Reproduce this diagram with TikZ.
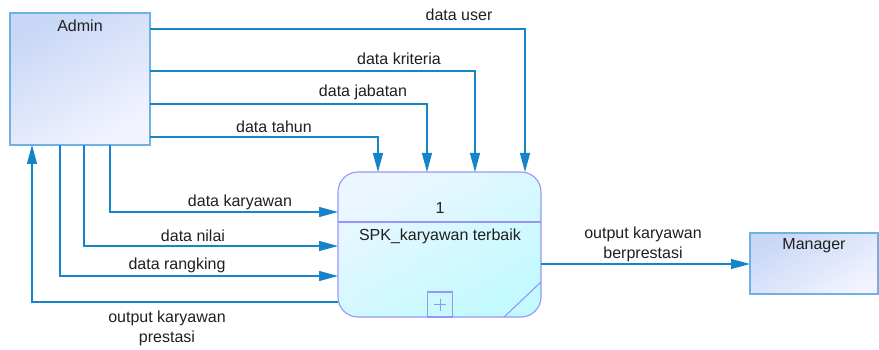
\documentclass[tikz,border=0pt]{standalone}
\usepackage{fontspec}
\setmainfont{Liberation Sans}
\usetikzlibrary{arrows.meta,calc}
\definecolor{flowblue}{RGB}{22,132,200}
\definecolor{entborder}{RGB}{110,178,228}
\definecolor{entdark}{RGB}{200,215,246}
\definecolor{entlight}{RGB}{242,243,255}
\definecolor{procborder}{RGB}{150,150,250}
\definecolor{proclight}{RGB}{236,246,255}
\definecolor{proccyan}{RGB}{194,250,255}
\tikzset{
  lbl/.style={font=\fontsize{16}{20}\selectfont, inner sep=0pt, align=center, text=black!88},
  entity/.style={draw=entborder, line width=1.1pt, outer sep=0pt, inner sep=0pt,
    top color=entdark, bottom color=entlight, shading angle=30, anchor=north west},
  process/.style={draw=procborder, line width=1.1pt, outer sep=0pt, inner sep=0pt,
    rounded corners=20pt, top color=proclight, bottom color=proccyan, shading angle=30, anchor=north west},
  procline/.style={draw=procborder, line width=1.1pt},
  flow/.style={draw=flowblue, line width=1.2pt, -{Triangle[length=19pt,width=10pt]}}
}
\begin{document}
\begin{tikzpicture}[x=1pt,y=-1pt]
\useasboundingbox (0,0) rectangle (879,350);

% external entities and the process
\node[entity, minimum width=140pt, minimum height=132pt] (admin) at (10,13) {};
\node[lbl] (adminlbl) at (80,26) {Admin};
\node[entity, minimum width=128pt, minimum height=61pt] (manager) at (750,233) {};
\node[lbl] (managerlbl) at (814,246) {Manager};

\node[process, minimum width=203pt, minimum height=145pt] (proc) at (338,172) {};
\draw[procline] (proc.west |- 0,222) -- (proc.east |- 0,222);
\node[lbl] (procid) at (440,208) {1};
\node[lbl] (procname) at (440,236) {SPK\_karyawan terbaik};
\node[draw=procborder, line width=1.1pt, minimum width=25pt, minimum height=25pt,
  inner sep=0pt, outer sep=0pt, anchor=south] (plus) at (proc.south -| 440,0) {};
\draw[draw=procborder, line width=0.9pt] ($(plus.center)+(-6,0)$) -- ($(plus.center)+(6,0)$)
  ($(plus.center)+(0,-6)$) -- ($(plus.center)+(0,6)$);
\draw[procline] (proc.south -| 504,0) -- (proc.east |- 0,282);

% flows from Admin into the top of the process
\draw[flow] (admin.east |- 0,29) -| (proc.north -| 525,0);
\draw[flow] (admin.east |- 0,71) -| (proc.north -| 475,0);
\draw[flow] (admin.east |- 0,104) -| (proc.north -| 427,0);
\draw[flow] (admin.east |- 0,137) -| (proc.north -| 378,0);

% flows from Admin into the left side of the process
\draw[flow] (admin.south -| 110,0) |- (proc.west |- 0,212);
\draw[flow] (admin.south -| 84,0) |- (proc.west |- 0,246);
\draw[flow] (admin.south -| 60,0) |- (proc.west |- 0,276);

% flows out of the process
\draw[flow] (proc.west |- 0,302) -| (admin.south -| 32,0);
\draw[flow] (proc.east |- 0,264) -- (manager.west |- 0,264);

% flow labels
\node[lbl] (luser) at (459,15) {data user};
\node[lbl] (lkrit) at (399,59) {data kriteria};
\node[lbl] (ljab) at (363,92) {data jabatan};
\node[lbl] (ltahun) at (274,127) {data tahun};
\node[lbl] (lkary) at (240,202) {data karyawan};
\node[lbl] (lnilai) at (193,236) {data nilai};
\node[lbl] (lrank) at (177,265) {data rangking};
\node[lbl] (lberp) at (643,244) {output karyawan\\berprestasi};
\node[lbl] (lprest) at (167,328) {output karyawan\\prestasi};
\end{tikzpicture}
\end{document}
